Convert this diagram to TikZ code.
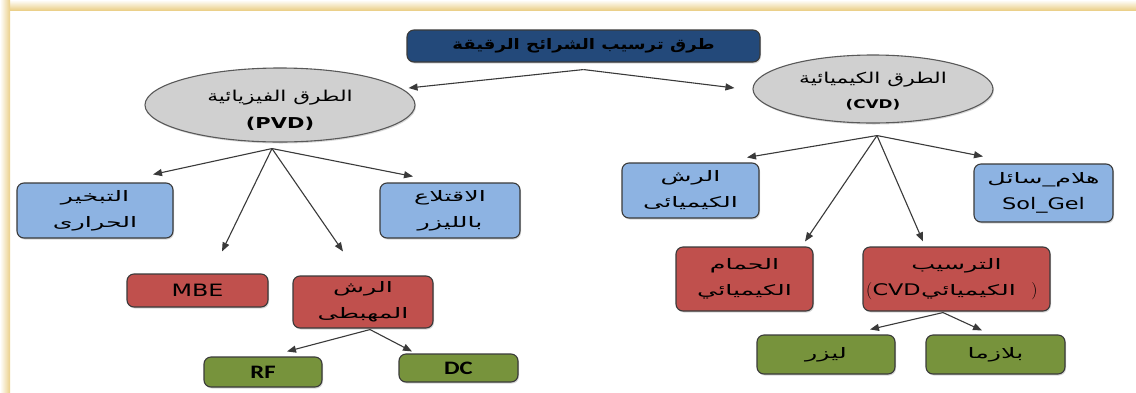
\documentclass[tikz,border=0pt]{standalone}
\usepackage{fontspec}
\setmainfont{DejaVu Sans}[FakeStretch=1.4]
\newfontfamily\arabicfont[Script=Arabic,FakeStretch=1.75]{DejaVu Sans}
\newfontfamily\arabicell[Script=Arabic,FakeStretch=1.45]{DejaVu Sans}
\newfontfamily\arabictitle[Script=Arabic,FakeStretch=1.25]{DejaVu Sans}
\newfontfamily\calibfont[FakeStretch=1.3]{Carlito}
\TeXXeTstate=1
\newcommand\artxt[1]{{\arabicfont\beginR #1\endR}}
\newcommand\arell[1]{{\arabicell\beginR #1\endR}}
\newcommand\artitle[1]{{\arabictitle\beginR #1\endR}}
\usetikzlibrary{arrows.meta,shapes.geometric,shadows,calc}
\definecolor{titleblue}{HTML}{23497A}
\definecolor{lightblue}{HTML}{8DB3E2}
\definecolor{boxred}{HTML}{C0504D}
\definecolor{boxgreen}{HTML}{77933C}
\definecolor{ellgray}{HTML}{D0D0D0}
\definecolor{framegold}{HTML}{EBD08A}
\definecolor{edgegray}{HTML}{3A3A3A}
\tikzset{
  box/.style={rounded corners=7pt, draw=edgegray, line width=1.1pt, inner sep=0pt, align=center,
    drop shadow={shadow xshift=1pt,shadow yshift=-1.5pt,opacity=0.3},
    font=\fontsize{14.5}{26}\selectfont},
  titlebox/.style={box, fill=titleblue, font=\fontsize{14.5}{18}\selectfont\bfseries},
  bluebox/.style={box, fill=lightblue},
  redbox/.style={box, fill=boxred},
  greenbox/.style={box, fill=boxgreen},
  boxtext/.style={inner sep=0pt, font=\fontsize{14.5}{26}\selectfont},
  ellnode/.style={ellipse, draw=gray!70!black, line width=1.1pt, fill=ellgray, inner sep=0pt, align=center,
    drop shadow={shadow xshift=1pt,shadow yshift=-1.5pt,opacity=0.3},
    font=\fontsize{15}{27}\selectfont},
  conn/.style={draw=edgegray, line width=1.1pt, -{Triangle[length=9pt,width=7pt]}},
  latinbig/.style={font=\fontsize{17}{18}\selectfont},
  latinbold/.style={font=\fontsize{19}{19}\selectfont\calibfont\bfseries}
}
\begin{document}
\begin{tikzpicture}[x=1pt,y=-1pt]
\useasboundingbox (0,0) rectangle (1136,392);
\fill[white] (0,0) rectangle (1136,392);
\shade[top color=white, bottom color=framegold] (0,0) rectangle (1136,10);
\shade[left color=white, right color=framegold] (0,0) rectangle (10,392);

\node[titlebox, minimum width=353pt, minimum height=32pt] (top) at (583.5,46) {\artitle{طرق ترسيب الشرائح الرقيقة}};

\node[ellnode, minimum width=270pt, minimum height=74pt] (lell) at (280,105) {\raisebox{-5pt}[\height][\depth]{\shortstack{\arell{الطرق الفيزيائية}\\[9pt]\textbf{(PVD)}}}};
\node[ellnode, minimum width=240pt, minimum height=68pt] (rell) at (873,89) {\raisebox{-2pt}[\height][\depth]{\shortstack{\arell{الطرق الكيميائية}\\[9pt]{\fontsize{12}{14}\selectfont\bfseries (CVD)}}}};

\node[bluebox, minimum width=156pt, minimum height=55pt] (tabkheer) at (95,210.5) {\artxt{التبخير}\\\artxt{الحرارى}};
\node[bluebox, minimum width=140pt, minimum height=55pt] (iqtila) at (450,210.5) {\artxt{الاقتلاع}\\\artxt{بالليزر}};
\node[redbox, minimum width=141pt, minimum height=33pt, latinbig] (mbe) at (197.5,290.5) {MBE};
\node[redbox, minimum width=140pt, minimum height=52pt] (rash1) at (363,302) {\artxt{الرش}\\\artxt{المهبطى}};
\node[greenbox, minimum width=118pt, minimum height=30pt, latinbold] (rf) at (263,372) {RF};
\node[greenbox, minimum width=119pt, minimum height=28pt, latinbold] (dc) at (458.5,368) {DC};

\node[bluebox, minimum width=137pt, minimum height=55pt] (rash2) at (690.5,190.5) {\artxt{الرش}\\\artxt{الكيميائى}};
\node[bluebox, minimum width=139pt, minimum height=58pt] (solgel) at (1043.5,193) {\artxt{هلام\_سائل}\\{\fontsize{16}{18}\selectfont Sol\_Gel}};
\node[redbox, minimum width=137pt, minimum height=64pt] (hammam) at (744.5,279) {\artxt{الحمام}\\\artxt{الكيميائي}};
\node[redbox, minimum width=187pt, minimum height=64pt] (tarsib) at (956.5,279) {\artxt{الترسيب}\\\phantom{\artxt{الكيميائي}}};
\node[boxtext] (cvdmid) at ([xshift=12pt,yshift=-13pt]tarsib.center) {\artxt{الكيميائي}};
\node[boxtext, anchor=base east, font=\fontsize{16}{18}\selectfont] (cvdleft) at (cvdmid.base west) {CVD};
\node[boxtext, anchor=base east, font=\fontsize{16}{18}\selectfont] (cvdparl) at (cvdleft.base west) {$($};
\node[boxtext, anchor=base west, font=\fontsize{16}{18}\selectfont] (cvdparr) at ([xshift=15pt]cvdmid.base east) {$)$};
\node[greenbox, minimum width=138pt, minimum height=39pt] (laser) at (826,354.5) {\artxt{ليزر}};
\node[greenbox, minimum width=139pt, minimum height=39pt] (plasma) at (995.5,354.5) {\artxt{بلازما}};

\coordinate (topsplit) at ([yshift=-7pt]top.south);
\draw[conn] (topsplit) -- ([xshift=-7pt,yshift=17pt]lell.east);
\draw[conn] (topsplit) -- ([xshift=-18pt,yshift=1pt]rell.west);

\coordinate (lsplit) at ([xshift=-8pt,yshift=-6pt]lell.south);
\draw[conn] (lsplit) -- ([xshift=58pt,yshift=8pt]tabkheer.north);
\draw[conn] (lsplit) -- ([xshift=-37pt,yshift=6pt]iqtila.north);
\draw[conn] (lsplit) -- ([xshift=24.5pt,yshift=22pt]mbe.north);
\draw[conn] (lsplit) -- ([xshift=-20pt,yshift=24pt]rash1.north);

\coordinate (rashsplit) at ([xshift=7pt,yshift=-1pt]rash1.south);
\draw[conn] (rashsplit) -- ([xshift=24pt,yshift=5pt]rf.north);
\draw[conn] (rashsplit) -- ([xshift=-46.5pt,yshift=2pt]dc.north);

\coordinate (rsplit) at ([xshift=4pt,yshift=-12pt]rell.south);
\draw[conn] (rsplit) -- ([xshift=56.5pt,yshift=5pt]rash2.north);
\draw[conn] (rsplit) -- ([xshift=-60.5pt,yshift=7pt]solgel.north);
\draw[conn] (rsplit) -- ([xshift=60.5pt,yshift=5pt]hammam.north);
\draw[conn] (rsplit) -- ([xshift=-33.5pt,yshift=5pt]tarsib.north);

\coordinate (tarsplit) at ([xshift=-13.5pt,yshift=-1pt]tarsib.south);
\draw[conn] (tarsplit) -- ([xshift=44pt,yshift=5pt]laser.north);
\draw[conn] (tarsplit) -- ([xshift=-13.5pt,yshift=4pt]plasma.north);
\end{tikzpicture}
\end{document}
